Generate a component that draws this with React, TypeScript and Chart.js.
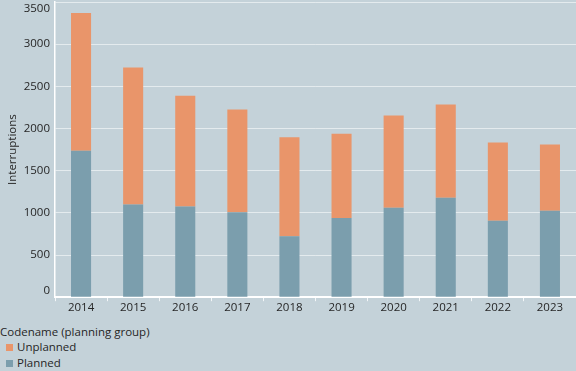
import React, { useEffect, useRef } from "react";
import { Chart, registerables } from "chart.js";

Chart.register(...registerables);

const years = ["2014", "2015", "2016", "2017", "2018", "2019", "2020", "2021", "2022", "2023"];
const planned = [1736, 1100, 1076, 1008, 722, 940, 1060, 1179, 905, 1024];
const unplanned = [1635, 1623, 1313, 1217, 1173, 999, 1094, 1106, 930, 787];
const yMax = 3500;
const yStep = 500;

const legendTitle = "Codename (planning group)";
const legendItems = [
  { label: "Unplanned", color: "#e9956a" },
  { label: "Planned", color: "#7b9ead" },
];

const BG = "#c4d2d9";
const TEXT = "#262626";
const FONT = "'Open Sans', 'Segoe UI', sans-serif";
const FS = 11.5;

export default function App() {
  const ref = useRef<HTMLCanvasElement | null>(null);

  useEffect(() => {
    if (!ref.current) return;
    const chart = new Chart(ref.current, {
      type: "bar",
      data: {
        labels: years,
        datasets: [
          {
            label: "Planned",
            data: planned,
            backgroundColor: "#7b9ead",
            barPercentage: 0.385,
            categoryPercentage: 1,
          },
          {
            label: "Unplanned",
            data: unplanned,
            backgroundColor: "#e9956a",
            barPercentage: 0.385,
            categoryPercentage: 1,
          },
        ],
      },
      options: {
        responsive: false,
        animation: false,
        maintainAspectRatio: false,
        layout: { padding: { left: 0, right: 0, top: 2, bottom: 0 } },
        plugins: {
          legend: { display: false },
          tooltip: { enabled: false },
        },
        scales: {
          x: {
            stacked: true,
            grid: {
              display: true,
              drawOnChartArea: false,
              drawTicks: true,
              tickLength: 4,
              offset: true,
              color: "rgba(255,255,255,0.8)",
            },
            border: { display: true, color: "#ffffff", width: 2 },
            ticks: { color: TEXT, font: { family: FONT, size: FS }, padding: 0 },
          },
          y: {
            stacked: true,
            min: 0,
            max: yMax,
            afterFit: (scale: any) => {
              scale.width = 55;
              scale.paddingTop = 0;
              scale.paddingBottom = 0;
            },
            ticks: {
              stepSize: yStep,
              color: TEXT,
              padding: 5,
              font: { family: FONT, size: FS },
              callback: (v: any) => {
                const s = String(v);
                if (v === yMax) return ["", s];
                if (v === 0) return [s, ""];
                return s;
              },
            },
            grid: {
              color: "rgba(255,255,255,0.55)",
              lineWidth: 1,
              drawTicks: false,
            },
            border: { display: true, color: "#ffffff", width: 1.5 },
            title: {
              display: true,
              text: "Interruptions",
              color: TEXT,
              font: { family: FONT, size: FS },
              padding: { top: 6, bottom: 0 },
            },
          },
        },
      },
    });
    return () => chart.destroy();
  }, []);

  return (
    <div
      style={{
        position: "fixed",
        left: 0,
        top: 0,
        width: 576,
        height: 371,
        background: BG,
        fontFamily: FONT,
        overflow: "hidden",
      }}
    >
      <canvas ref={ref} width={576} height={315} style={{ position: "absolute", left: 0, top: 0 }} />
      <div style={{ position: "absolute", left: 0, top: 324, color: TEXT, fontSize: FS }}>
        <div style={{ height: 15, lineHeight: "15px" }}>{legendTitle}</div>
        {legendItems.map((it) => (
          <div key={it.label} style={{ height: 16, lineHeight: "16px", display: "flex", alignItems: "center" }}>
            <span
              style={{
                display: "inline-block",
                width: 7,
                height: 7,
                background: it.color,
                marginLeft: 6,
                marginRight: 4,
              }}
            />
            <span>{it.label}</span>
          </div>
        ))}
      </div>
    </div>
  );
}
